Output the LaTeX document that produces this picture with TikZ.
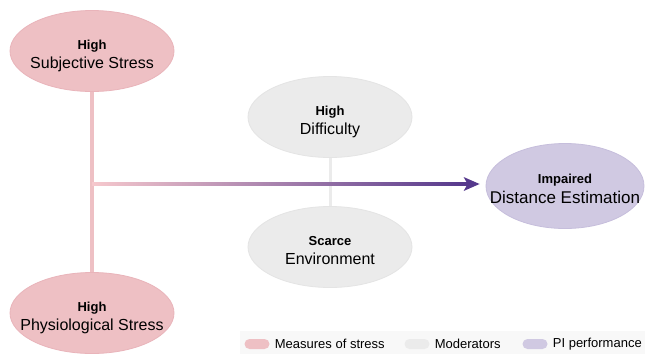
\documentclass[tikz,border=0pt]{standalone}
\usepackage{fontspec}
\setmainfont{Liberation Sans}
\usetikzlibrary{shapes.geometric,positioning,calc}

\definecolor{stressfill}{HTML}{EEC0C4}
\definecolor{stressline}{HTML}{E9B4BA}
\definecolor{modfill}{HTML}{EBEBEB}
\definecolor{modline}{HTML}{E4E4E4}
\definecolor{perffill}{HTML}{D0C9E2}
\definecolor{perfline}{HTML}{C6BEDC}
\definecolor{arrowstart}{HTML}{F6C8CD}
\definecolor{arrowend}{HTML}{55388C}
\definecolor{legendbg}{HTML}{F8F8F8}

% text sits on the ellipse without widening it
\newcommand{\twoline}[3][16]{\makebox[0pt]{\raisebox{-7.5pt}[0pt][0pt]{%
  \begin{tabular}{@{}c@{}}{\bfseries\fontsize{13}{15}\selectfont #2}\\[4pt]{\fontsize{#1}{18}\selectfont #3}\end{tabular}}}}

\tikzset{
  blob/.style={ellipse, minimum width=164pt, minimum height=81pt, inner sep=0pt, line width=0.8pt},
  stressblob/.style={blob, fill=stressfill, draw=stressline},
  modblob/.style={blob, fill=modfill, draw=modline},
  perfblob/.style={blob, fill=perffill, draw=perfline, minimum width=158pt, minimum height=85pt},
  pill/.style={rounded corners=5pt, minimum width=25pt, minimum height=10pt, inner sep=0pt},
  legtext/.style={font=\fontsize{13}{15}\selectfont, anchor=west, inner sep=0pt}
}

\begin{document}
\begin{tikzpicture}[x=1pt,y=-1pt]
  \useasboundingbox (0,0) rectangle (645,354);
  \fill[white] (0,0) rectangle (645,354);

  % legend band
  \fill[legendbg] (240,331) rectangle (645,354);

  \node[stressblob] (subj) at (92,51) {\twoline{High}{Subjective Stress}};
  \node[stressblob] (phys) at (92,313) {\twoline{High}{Physiological Stress}};
  \node[modblob] (diff) at (330,117) {\twoline{High}{Difficulty}};
  \node[modblob] (env) at (330,247) {\twoline{Scarce}{Environment}};
  \node[perfblob] (dist) at (565,186) {\twoline[17]{Impaired}{Distance Estimation}};

  % links between the ellipses
  \draw[stressfill, line width=4pt] (subj.south) -- (phys.north);
  \draw[modfill, line width=3pt] (diff.south) -- (env.north);

  \coordinate (junc) at (subj.south |- 0,184);
  \coordinate (tip) at ($(dist.west |- 0,184)+(-6,0)$);
  \shade[left color=arrowstart, right color=arrowend] ($(junc)+(0,-1.6)$) rectangle ($(tip)+(-12,1.6)$);
  \fill[arrowend] (tip) -- ++(-16,-7) -- ++(4,7) -- ++(-4,7) -- cycle;

  % legend
  \node[pill, fill=stressfill] (legs) at (257,344) {};
  \node[legtext, right=5pt of legs] (legst) {Measures of stress};
  \node[pill, fill=modfill] (legm) at (417,344) {};
  \node[legtext, right=5pt of legm] (legmt) {Moderators};
  \node[pill, fill=perffill] (legp) at (535,344) {};
  \node[legtext, right=5pt of legp] (legpt) {PI performance};
\end{tikzpicture}
\end{document}
